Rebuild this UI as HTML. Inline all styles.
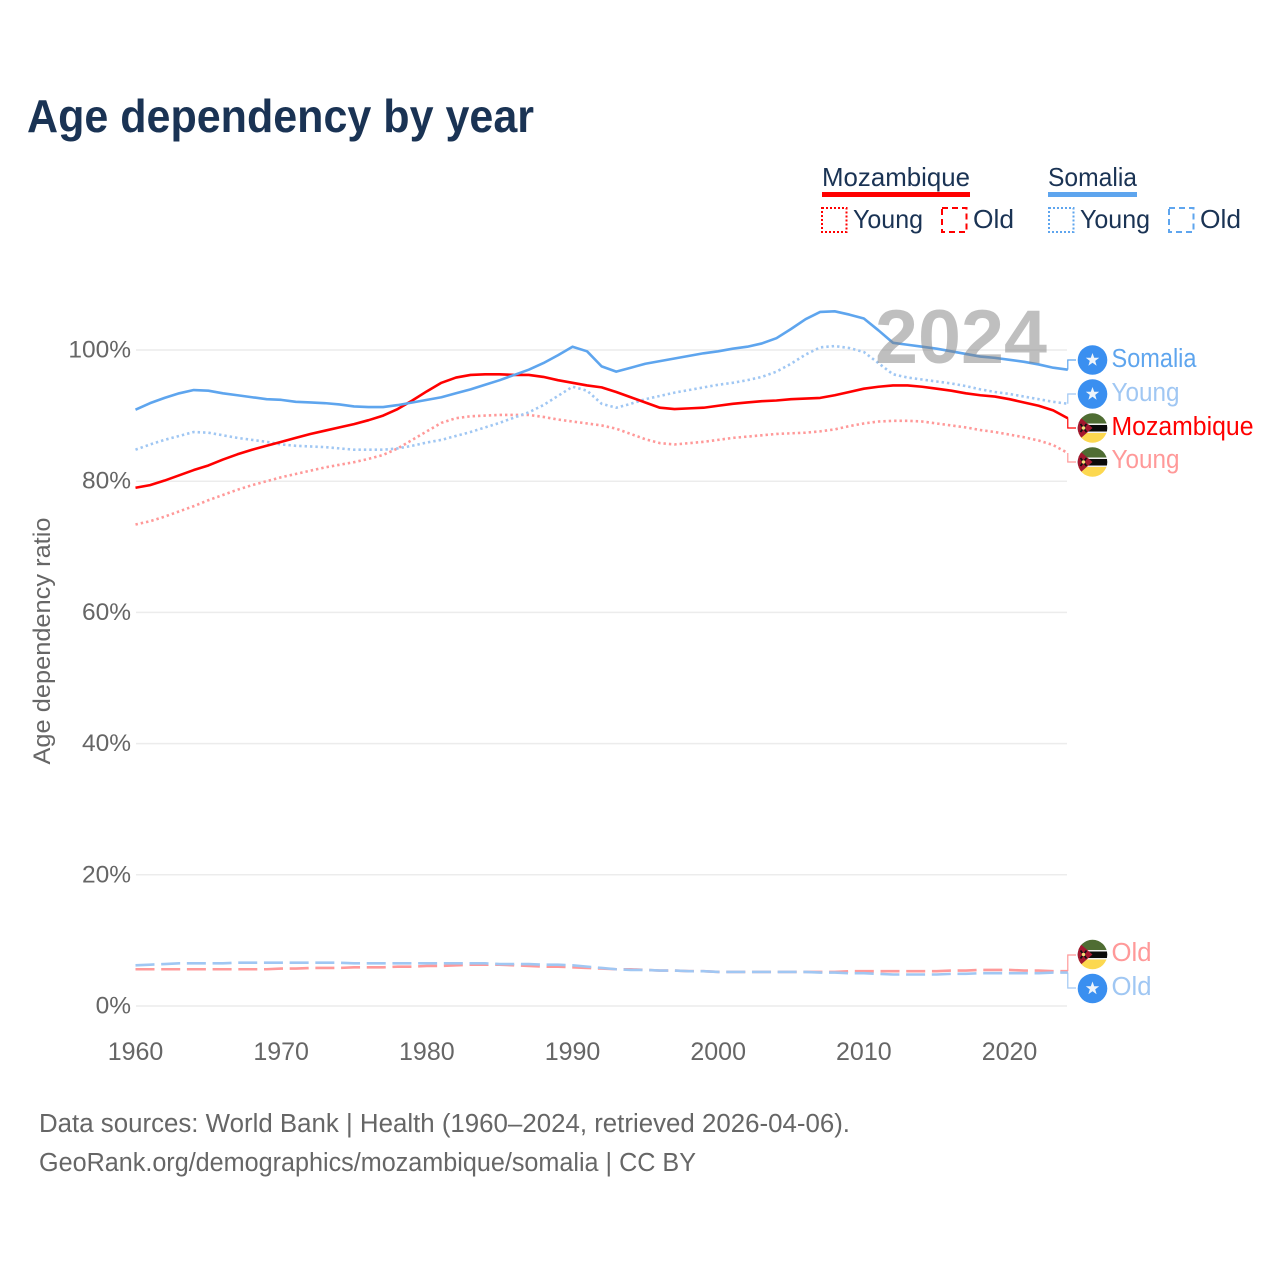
<!DOCTYPE html>
<html lang="en">
<head>
<meta charset="utf-8">
<title>Age dependency by year</title>
<style>
html,body{margin:0;padding:0;background:#fff;}
svg{display:block;font-family:"Liberation Sans",sans-serif;}
</style>
</head>
<body>
<svg id="chart" xmlns="http://www.w3.org/2000/svg" width="1280" height="1280" viewBox="0 0 1280 1280">
  <defs>
    <clipPath id="flag-clip"><circle cx="0" cy="0" r="14.8"/></clipPath>
    <g id="flag-so">
      <circle r="14.8" fill="#3a8ff0"/>
      <polygon fill="#eef4fb" points="0,-7 1.7,-2.2 6.7,-2.2 2.7,0.9 4.1,5.7 0,2.8 -4.1,5.7 -2.7,0.9 -6.7,-2.2 -1.7,-2.2"/>
    </g>
    <g id="flag-mz" clip-path="url(#flag-clip)">
      <rect x="-15" y="-15" width="30" height="10.5" fill="#4f6d33"/>
      <rect x="-15" y="-4.5" width="30" height="1.5" fill="#f2f2f2"/>
      <rect x="-15" y="-3" width="30" height="6.5" fill="#0b0b0b"/>
      <rect x="-15" y="3.5" width="30" height="1.5" fill="#f2f2f2"/>
      <rect x="-15" y="5" width="30" height="10" fill="#fcd850"/>
      <polygon points="-15,-13 0,0 -15,13" fill="#a3182f"/>
      <path d="M-12,-4 L-6,4 M-6,-4 L-12,4" stroke="#111" stroke-width="1.7" fill="none"/>
      <circle cx="-9" cy="0" r="1.7" fill="#f5e27a"/>
    </g>
  </defs>

  <text x="27" y="132" font-size="46" font-weight="700" fill="#1a3354" textLength="507" lengthAdjust="spacingAndGlyphs">Age dependency by year</text>

  <g>
    <g>
      <text x="822" y="186" font-size="26" fill="#1a3354" textLength="148" lengthAdjust="spacingAndGlyphs">Mozambique</text>
      <rect x="822" y="192" width="148" height="5" fill="#ff0000"/>
      <rect x="822" y="208" width="24.5" height="24" fill="none" stroke="#ff0000" stroke-width="2" stroke-dasharray="2 2"/>
      <text x="853" y="228" font-size="26" fill="#1a3354" textLength="70" lengthAdjust="spacingAndGlyphs">Young</text>
      <rect x="942" y="208" width="24.5" height="24" fill="none" stroke="#ff0000" stroke-width="2" stroke-dasharray="6 4"/>
      <text x="973" y="228" font-size="26" fill="#1a3354" textLength="41" lengthAdjust="spacingAndGlyphs">Old</text>
    </g>
    <g>
      <text x="1048" y="186" font-size="26" fill="#1a3354" textLength="89" lengthAdjust="spacingAndGlyphs">Somalia</text>
      <rect x="1048" y="192" width="89" height="5" fill="#5ea5ee"/>
      <rect x="1049" y="208" width="24.5" height="24" fill="none" stroke="#5ea5ee" stroke-width="2" stroke-dasharray="2 2"/>
      <text x="1080" y="228" font-size="26" fill="#1a3354" textLength="70" lengthAdjust="spacingAndGlyphs">Young</text>
      <rect x="1169" y="208" width="24.5" height="24" fill="none" stroke="#5ea5ee" stroke-width="2" stroke-dasharray="6 4"/>
      <text x="1200" y="228" font-size="26" fill="#1a3354" textLength="41" lengthAdjust="spacingAndGlyphs">Old</text>
    </g>
  </g>

  <text transform="translate(50,641) rotate(-90)" text-anchor="middle" font-size="24.5" fill="#666666" textLength="247" lengthAdjust="spacingAndGlyphs">Age dependency ratio</text>

  <g id="grid"></g>
  <g id="y-ticks"></g>
  <g id="x-ticks"></g>
  <g id="connectors"></g>
  <g id="lines"></g>

  <text x="875" y="363" font-size="76" font-weight="700" fill="#808080" fill-opacity="0.5" textLength="172" lengthAdjust="spacingAndGlyphs">2024</text>

  <g>
    <use href="#flag-so" x="1092.5" y="360"/>
    <text x="1111.5" y="367" font-size="25.5" fill="#5ea5ee" textLength="85" lengthAdjust="spacingAndGlyphs">Somalia</text>
    <use href="#flag-so" x="1092.5" y="394"/>
    <text x="1111.5" y="401" font-size="25.5" fill="#a0c7f3" textLength="68" lengthAdjust="spacingAndGlyphs">Young</text>
    <use href="#flag-mz" x="1092.5" y="428"/>
    <text x="1111.5" y="435" font-size="25.5" fill="#ff0000" textLength="142" lengthAdjust="spacingAndGlyphs">Mozambique</text>
    <use href="#flag-mz" x="1092.5" y="462"/>
    <text x="1111.5" y="468" font-size="25.5" fill="#ff9999" textLength="68" lengthAdjust="spacingAndGlyphs">Young</text>
    <use href="#flag-mz" x="1092.5" y="954.5"/>
    <text x="1111.5" y="961" font-size="25.5" fill="#ff9999" textLength="40" lengthAdjust="spacingAndGlyphs">Old</text>
    <use href="#flag-so" x="1092.5" y="988.5"/>
    <text x="1111.5" y="995" font-size="25.5" fill="#a0c7f3" textLength="40" lengthAdjust="spacingAndGlyphs">Old</text>
  </g>

  <g>
    <text x="39" y="1132" font-size="25.5" fill="#666666" textLength="811" lengthAdjust="spacingAndGlyphs">Data sources: World Bank | Health (1960–2024, retrieved 2026-04-06).</text>
    <text x="39" y="1171" font-size="25.5" fill="#666666" textLength="657" lengthAdjust="spacingAndGlyphs">GeoRank.org/demographics/mozambique/somalia | CC BY</text>
  </g>

  <script>
    var startYear = 1960;
    var yTickValues = [0, 20, 40, 60, 80, 100];
    var xTickValues = [1960, 1970, 1980, 1990, 2000, 2010, 2020];

    var mozambiqueTotal = [79.0,79.4,80.1,80.9,81.7,82.4,83.3,84.1,84.8,85.4,86.0,86.6,87.2,87.7,88.2,88.7,89.3,90.0,91.0,92.3,93.7,95.0,95.8,96.2,96.3,96.3,96.2,96.2,95.9,95.4,95.0,94.6,94.3,93.6,92.8,92.0,91.2,91.0,91.1,91.2,91.5,91.8,92.0,92.2,92.3,92.5,92.6,92.7,93.1,93.6,94.1,94.4,94.6,94.6,94.4,94.1,93.8,93.4,93.1,92.9,92.5,92.0,91.5,90.8,89.6];
    var mozambiqueYoung = [73.4,73.9,74.6,75.4,76.2,77.1,77.9,78.7,79.4,80.0,80.6,81.1,81.6,82.1,82.5,82.9,83.4,84.0,85.0,86.3,87.6,88.9,89.6,89.9,90.0,90.1,90.1,90.1,89.8,89.4,89.1,88.8,88.5,88.0,87.2,86.4,85.8,85.6,85.8,86.0,86.3,86.6,86.8,87.0,87.2,87.3,87.4,87.6,87.9,88.4,88.8,89.1,89.2,89.2,89.1,88.8,88.5,88.2,87.8,87.5,87.1,86.7,86.2,85.5,84.3];
    var mozambiqueOld = [5.6,5.6,5.6,5.6,5.6,5.6,5.6,5.6,5.6,5.6,5.7,5.7,5.8,5.8,5.8,5.9,5.9,5.9,6.0,6.0,6.1,6.1,6.2,6.3,6.3,6.3,6.2,6.1,6.0,6.0,5.9,5.8,5.7,5.6,5.6,5.5,5.4,5.4,5.3,5.3,5.2,5.2,5.2,5.2,5.2,5.2,5.2,5.2,5.2,5.3,5.3,5.3,5.3,5.3,5.3,5.3,5.4,5.4,5.5,5.5,5.5,5.4,5.4,5.3,5.3];
    var somaliaTotal = [90.9,91.9,92.7,93.4,93.9,93.8,93.4,93.1,92.8,92.5,92.4,92.1,92.0,91.9,91.7,91.4,91.3,91.3,91.6,92.0,92.4,92.8,93.4,94.0,94.7,95.4,96.2,97.0,98.0,99.2,100.5,99.8,97.5,96.7,97.3,97.9,98.3,98.7,99.1,99.5,99.8,100.2,100.5,101.0,101.8,103.2,104.7,105.8,105.9,105.4,104.8,103.0,101.1,100.8,100.5,100.2,99.8,99.4,99.0,98.8,98.5,98.2,97.8,97.3,97.0];
    var somaliaYoung = [84.8,85.6,86.3,86.9,87.5,87.4,87.0,86.6,86.3,86.0,85.6,85.4,85.3,85.2,85.0,84.8,84.8,84.8,85.0,85.4,85.9,86.3,86.9,87.5,88.2,88.9,89.7,90.5,91.6,93.0,94.4,93.8,91.8,91.2,91.8,92.5,93.0,93.5,93.9,94.3,94.7,95.0,95.4,95.9,96.7,97.9,99.3,100.4,100.6,100.3,99.7,98.0,96.3,95.8,95.5,95.2,94.9,94.5,94.0,93.6,93.3,92.9,92.5,92.1,91.8];
    var somaliaOld = [6.2,6.3,6.4,6.5,6.5,6.5,6.5,6.6,6.6,6.6,6.6,6.6,6.6,6.6,6.6,6.5,6.5,6.5,6.5,6.5,6.5,6.5,6.5,6.5,6.5,6.4,6.4,6.4,6.3,6.3,6.2,6.0,5.8,5.6,5.5,5.5,5.4,5.4,5.3,5.3,5.2,5.2,5.2,5.2,5.2,5.2,5.2,5.1,5.1,5.0,5.0,4.9,4.8,4.8,4.8,4.8,4.9,4.9,5.0,5.0,5.0,5.0,5.0,5.1,5.1];

    var NS = 'http://www.w3.org/2000/svg';
    function xScale(year) { return 135.5 + (year - 1960) * 14.567; }
    function yScale(value) { return 1006 - value * 6.56; }
    function pathFrom(values) {
      var d = '';
      for (var i = 0; i < values.length; i++) {
        d += (i ? 'L' : 'M') + xScale(startYear + i).toFixed(2) + ',' + yScale(values[i]).toFixed(2);
      }
      return d;
    }
    var gridGroup = document.getElementById('grid');
    var yTickGroup = document.getElementById('y-ticks');
    var xTickGroup = document.getElementById('x-ticks');
    var lineGroup = document.getElementById('lines');
    var connectorGroup = document.getElementById('connectors');

    yTickValues.forEach(function (v) {
      var line = document.createElementNS(NS, 'line');
      
      
      line.setAttribute('x1', 136);
      line.setAttribute('x2', 1067);
      line.setAttribute('y1', yScale(v));
      line.setAttribute('y2', yScale(v));
      line.setAttribute('stroke', '#ececec');
      line.setAttribute('stroke-width', 1.5);
      gridGroup.appendChild(line);

      var label = document.createElementNS(NS, 'text');
      
      
      label.setAttribute('x', 131);
      label.setAttribute('y', yScale(v) + 7.5);
      label.setAttribute('text-anchor', 'end');
      label.setAttribute('font-size', '24.5');
      label.setAttribute('fill', '#666666');
      label.textContent = v + '%';
      yTickGroup.appendChild(label);
    });

    xTickValues.forEach(function (yr) {
      var label = document.createElementNS(NS, 'text');
      
      
      label.setAttribute('x', xScale(yr));
      label.setAttribute('y', 1060);
      label.setAttribute('text-anchor', 'middle');
      label.setAttribute('font-size', '25');
      label.setAttribute('fill', '#666666');
      label.textContent = yr;
      xTickGroup.appendChild(label);
    });

    function addLine(values, color, width, dash, seriesName) {
      var p = document.createElementNS(NS, 'path');
      
      
      p.setAttribute('d', pathFrom(values));
      p.setAttribute('fill', 'none');
      p.setAttribute('stroke', color);
      p.setAttribute('stroke-width', width);
      p.setAttribute('stroke-linejoin', 'round');
      if (dash) { p.setAttribute('stroke-dasharray', dash); }
      lineGroup.appendChild(p);
    }
    function addConnector(values, labelY, color, connectorName) {
      var endY = yScale(values[values.length - 1]);
      var p = document.createElementNS(NS, 'path');
      
      
      p.setAttribute('d', 'M' + xScale(2024).toFixed(2) + ',' + endY.toFixed(2) + 'V' + labelY + 'H1076');
      p.setAttribute('fill', 'none');
      p.setAttribute('stroke', color);
      p.setAttribute('stroke-width', 1.2);
      connectorGroup.appendChild(p);
    }

    addConnector(somaliaTotal, 360, '#5ea5ee', 'connector-somalia');
    addConnector(somaliaYoung, 394, '#a0c7f3', 'connector-somalia-young');
    addConnector(mozambiqueTotal, 428, '#ff0000', 'connector-mozambique');
    addConnector(mozambiqueYoung, 462, '#ff9999', 'connector-mozambique-young');
    addConnector(mozambiqueOld, 955, '#ff9999', 'connector-mozambique-old');
    addConnector(somaliaOld, 988, '#a0c7f3', 'connector-somalia-old');

    addLine(mozambiqueOld, '#ff9999', 2.6, '19 6.7', 'line-mozambique-old');
    addLine(somaliaOld, '#a0c7f3', 2.6, '19 6.7', 'line-somalia-old');
    addLine(mozambiqueYoung, '#ff9999', 2.6, '2.4 3', 'line-mozambique-young');
    addLine(somaliaYoung, '#a0c7f3', 2.6, '2.4 3', 'line-somalia-young');
    addLine(mozambiqueTotal, '#ff0000', 2.6, '', 'line-mozambique-total');
    addLine(somaliaTotal, '#5ea5ee', 2.6, '', 'line-somalia-total');
  </script>
</svg>
</body>
</html>
